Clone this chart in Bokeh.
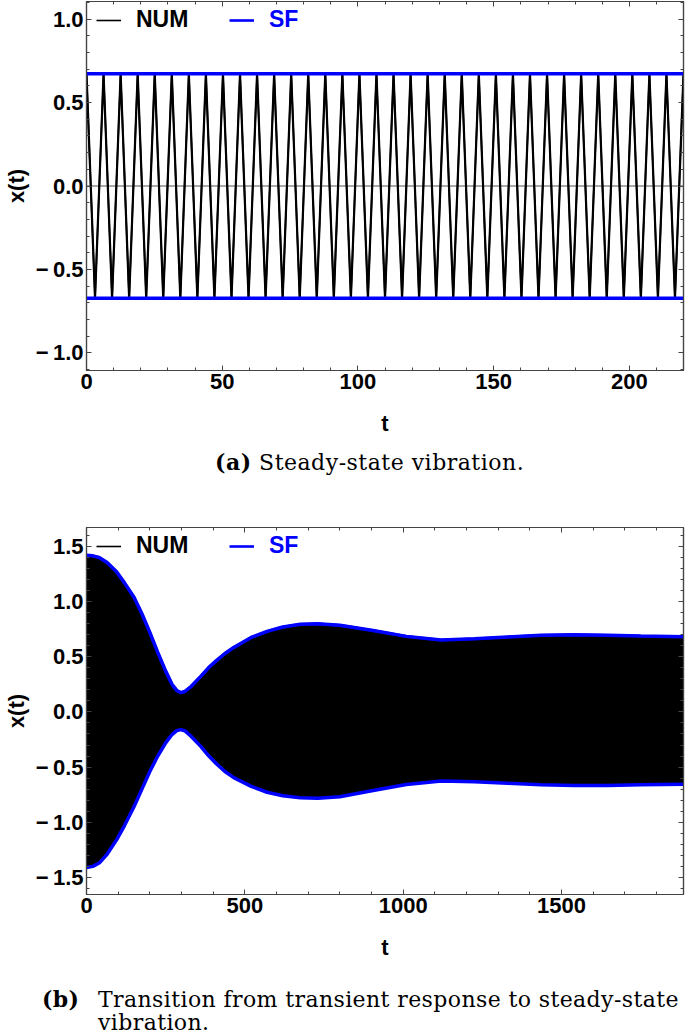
from bokeh.plotting import figure
from bokeh.models import (Range1d, LinearAxis, SingleIntervalTicker, CustomJSTickFormatter,
                          Legend, LegendItem, Div, Span, CustomLabelingPolicy)
from bokeh.layouts import column
from bokeh.embed import file_html
from bokeh.resources import INLINE

# ---------------- data: panel (a) steady state ----------------
a_ext_t = [0.00, 3.14, 6.28, 9.42, 12.57, 15.71, 18.85, 21.99, 25.13, 28.27,
           31.42, 34.56, 37.70, 40.84, 43.98, 47.12, 50.27, 53.41, 56.55, 59.69,
           62.83, 65.97, 69.12, 72.26, 75.40, 78.54, 81.68, 84.82, 87.96, 91.11,
           94.25, 97.39, 100.53, 103.67, 106.81, 109.96, 113.10, 116.24, 119.38, 122.52,
           125.66, 128.81, 131.95, 135.09, 138.23, 141.37, 144.51, 147.65, 150.80, 153.94,
           157.08, 160.22, 163.36, 166.50, 169.65, 172.79, 175.93, 179.07, 182.21, 185.35,
           188.50, 191.64, 194.78, 197.92, 201.06, 204.20, 207.35, 210.49, 213.63, 216.77,
           219.91]
a_ext_x = [0.672, -0.672, 0.672, -0.672, 0.672, -0.672, 0.672, -0.672, 0.672, -0.672,
           0.672, -0.672, 0.672, -0.672, 0.672, -0.672, 0.672, -0.672, 0.672, -0.672,
           0.672, -0.672, 0.672, -0.672, 0.672, -0.672, 0.672, -0.672, 0.672, -0.672,
           0.672, -0.672, 0.672, -0.672, 0.672, -0.672, 0.672, -0.672, 0.672, -0.672,
           0.672, -0.672, 0.672, -0.672, 0.672, -0.672, 0.672, -0.672, 0.672, -0.672,
           0.672, -0.672, 0.672, -0.672, 0.672, -0.672, 0.672, -0.672, 0.672, -0.672,
           0.672, -0.672, 0.672, -0.672, 0.672, -0.672, 0.672, -0.672, 0.672, -0.672,
           0.672]
a_sf_t = [0.0, 219.91]
a_sf_upper = [0.672, 0.672]
a_sf_lower = [-0.672, -0.672]

# ---------------- data: panel (b) transient -> steady ----------------
b_t = [0, 20, 40, 65, 95, 120, 150, 175, 200, 225, 250, 270, 285, 297, 310, 330,
       360, 385, 410, 437, 465, 520, 570, 620, 675, 730, 800, 905, 1010, 1120, 1225,
       1330, 1435, 1540, 1645, 1750, 1885]
b_upper = [1.42, 1.415, 1.40, 1.355, 1.27, 1.17, 1.04, 0.89, 0.72, 0.54, 0.37, 0.25,
           0.195, 0.175, 0.185, 0.23, 0.32, 0.40, 0.465, 0.53, 0.585, 0.675, 0.73, 0.77,
           0.795, 0.80, 0.785, 0.738, 0.685, 0.652, 0.663, 0.68, 0.695, 0.70, 0.695,
           0.688, 0.682]
b_lower = [-1.41, -1.40, -1.37, -1.29, -1.16, -1.03, -0.86, -0.70, -0.54, -0.40, -0.28,
           -0.205, -0.17, -0.16, -0.17, -0.22, -0.31, -0.395, -0.47, -0.54, -0.595,
           -0.675, -0.728, -0.76, -0.777, -0.783, -0.768, -0.713, -0.658, -0.627,
           -0.632, -0.647, -0.66, -0.666, -0.666, -0.66, -0.655]

FONT = "Liberation Sans"
FRAME = "#444444"
BLUE = "#0000ff"

yfmt_code = "return (tick < 0 ? '\\u2212\\u2009' : '') + Math.abs(tick).toFixed(1);"
hide_code = "for (const i of indices) { indices.unset(i) } return indices;"


def make_fig(xr, yr, xint, yint, height, top_border, frame_h):
    p = figure(width=685, height=height, x_range=Range1d(*xr), y_range=Range1d(*yr),
               output_backend="svg", toolbar_location=None,
               min_border_left=86, min_border_right=2, min_border_top=top_border,
               min_border_bottom=height - top_border - frame_h,
               x_axis_label="t", y_axis_label="x(t)")
    p.grid.visible = False
    p.outline_line_color = FRAME
    p.outline_line_width = 1.2
    p.background_fill_color = "white"
    p.border_fill_color = "white"
    p.xaxis.ticker = SingleIntervalTicker(interval=xint, num_minor_ticks=5)
    p.yaxis.ticker = SingleIntervalTicker(interval=yint, num_minor_ticks=5)
    p.yaxis.formatter = CustomJSTickFormatter(code=yfmt_code)
    for ax in (p.xaxis[0], p.yaxis[0]):
        ax.major_label_text_font = FONT
        ax.major_label_text_font_style = "bold"
        ax.major_label_text_font_size = "22px"
        ax.major_label_text_color = "black"
        ax.axis_label_text_font = FONT
        ax.axis_label_text_font_style = "bold"
        ax.axis_label_text_font_size = "22px"
        ax.axis_label_text_color = "black"
    p.xaxis.major_label_standoff = 3
    p.xaxis.axis_label_standoff = 19
    p.yaxis.major_label_standoff = 3
    p.yaxis.axis_label_standoff = 4
    for ax_loc, interval in (("above", xint), ("right", yint)):
        ax = LinearAxis(ticker=SingleIntervalTicker(interval=interval, num_minor_ticks=5),
                        major_label_policy=CustomLabelingPolicy(code=hide_code),
                        major_label_text_font_size="0px", major_label_standoff=0)
        p.add_layout(ax, ax_loc)
    for ax in p.axis:
        ax.axis_line_color = FRAME
        ax.axis_line_width = 1.2
        ax.major_tick_line_color = FRAME
        ax.minor_tick_line_color = FRAME
        ax.major_tick_in = 5
        ax.major_tick_out = 0
        ax.minor_tick_in = 3
        ax.minor_tick_out = 0
    return p


def add_legends(p, frame_h, num_r, sf_r):
    common = dict(orientation="horizontal", glyph_width=25, glyph_height=20,
                  label_standoff=15, padding=0, margin=0, spacing=0,
                  border_line_color=None, background_fill_alpha=0,
                  label_text_font=FONT, label_text_font_style="bold",
                  label_text_font_size="23px", label_height=20)
    y = frame_h - 32
    l1 = Legend(items=[LegendItem(label="NUM", renderers=[num_r])], location=(10, y),
                label_text_color="black", **common)
    l2 = Legend(items=[LegendItem(label="SF", renderers=[sf_r])], location=(143, y),
                label_text_color=BLUE, **common)
    p.add_layout(l1, "center")
    p.add_layout(l2, "center")


# ---------------- panel (a) ----------------
FA = 369
pa = make_fig((0, 219.91), (-1.105, 1.105), 50, 0.5, 440, 1, FA)
pa.add_layout(Span(location=0, dimension="width", line_color="#555555", line_width=1,
                   level="underlay"))
num_a_leg = pa.line(a_ext_t, a_ext_x, line_color="black", line_width=1.6)
pa.line(a_ext_t, a_ext_x, line_color="black", line_width=2.2, line_join="round")
sf_a_leg = pa.line(a_sf_t, a_sf_upper, line_color=BLUE, line_width=2.6)
pa.line(a_sf_t, a_sf_upper, line_color=BLUE, line_width=3.5)
pa.line(a_sf_t, a_sf_lower, line_color=BLUE, line_width=3.5)
add_legends(pa, FA, num_a_leg, sf_a_leg)

div_a = Div(text=("<div style=\"font-family:'DejaVu Serif'; font-size:22px; line-height:22px;"
                  " letter-spacing:0.5px; padding-left:215px; padding-top:11px;"
                  " white-space:nowrap; color:black\">"
                  "<b>(a)</b> Steady-state vibration.</div>"), width=685, height=45, margin=0)

# ---------------- panel (b) ----------------
FB = 367
pb = make_fig((0, 1885), (-1.655, 1.672), 500, 0.5, 479, 42, FB)
pb.varea(x=b_t, y1=b_lower, y2=b_upper, fill_color="black")
num_b = pb.line(b_t, b_upper, line_color="black", line_width=1.6)
pb.line(b_t, b_lower, line_color="black", line_width=1.6)
sf_b_leg = pb.line(b_t, b_upper, line_color=BLUE, line_width=2.6)
pb.line(b_t, b_upper, line_color=BLUE, line_width=3.5)
pb.line(b_t, b_lower, line_color=BLUE, line_width=3.5)
add_legends(pb, FB, num_b, sf_b_leg)

div_b = Div(text=("<div style=\"display:flex; font-family:'DejaVu Serif'; font-size:22px;"
                  " line-height:23px; letter-spacing:0.4px; padding-left:42px; padding-top:24px;"
                  " color:black\">"
                  "<div style='width:56px; font-weight:bold'>(b)</div>"
                  "<div style='white-space:nowrap'>Transition from transient response to steady-state"
                  "<br>vibration.</div></div>"), width=685, height=71, margin=0)

layout = column(pa, div_a, pb, div_b, spacing=0)
open("out.html", "w").write(file_html(layout, INLINE))
